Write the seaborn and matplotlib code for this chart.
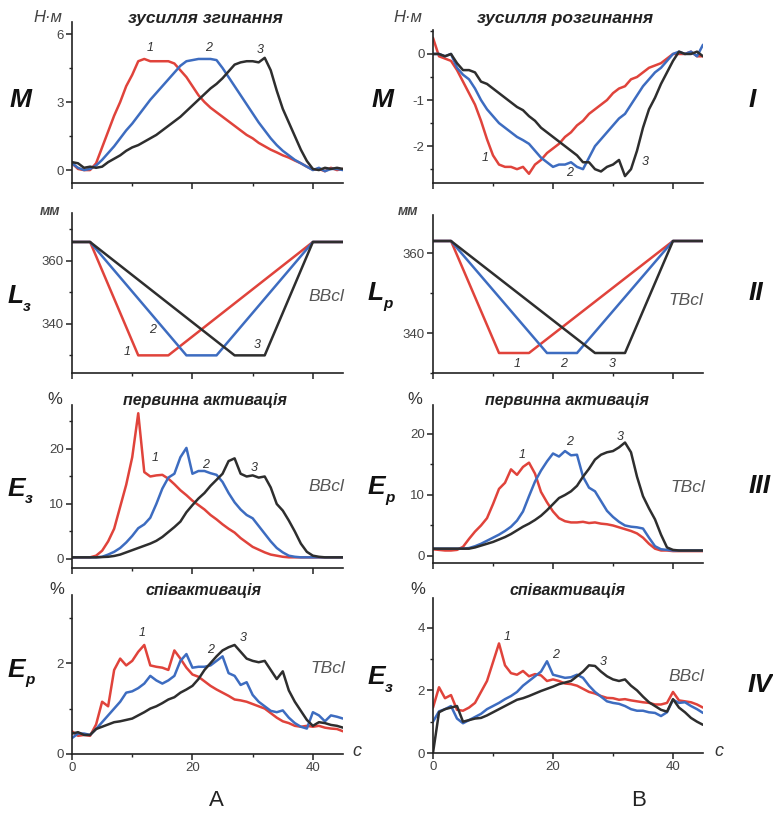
import pandas as pd
import seaborn as sns
import matplotlib.pyplot as plt
from matplotlib.ticker import MultipleLocator

# time axis, s
t = list(range(46))

# I. moment, N*m -- flexion (left)
m_flex_1 = [0.3, 0.05, 0.0, 0.0, 0.3, 1.0, 1.7, 2.4, 3.0, 3.7, 4.2, 4.8, 4.9, 4.8, 4.8, 4.8,
            4.8, 4.7, 4.4, 4.1, 3.7, 3.3, 3.0, 2.75, 2.55, 2.35, 2.15, 1.95, 1.75, 1.55, 1.4,
            1.2, 1.05, 0.9, 0.78, 0.65, 0.55, 0.42, 0.3, 0.15, 0.02, 0.05, -0.05, 0.1, 0.0, 0.05]
m_flex_2 = [0.3, 0.1, 0.0, 0.05, 0.2, 0.45, 0.75, 1.05, 1.4, 1.75, 2.05, 2.4, 2.75, 3.1, 3.4, 3.7,
            4.0, 4.3, 4.6, 4.8, 4.85, 4.9, 4.9, 4.9, 4.85, 4.5, 4.1, 3.7, 3.3, 2.9, 2.5,
            2.1, 1.75, 1.4, 1.1, 0.85, 0.65, 0.45, 0.3, 0.15, 0.0, 0.1, -0.05, 0.05, 0.05, 0.0]
m_flex_3 = [0.35, 0.3, 0.1, 0.15, 0.1, 0.15, 0.35, 0.5, 0.65, 0.85, 1.0, 1.1, 1.25, 1.4, 1.55, 1.75,
            1.95, 2.15, 2.35, 2.6, 2.85, 3.1, 3.35, 3.6, 3.8, 4.05, 4.35, 4.65, 4.75, 4.8, 4.8,
            4.75, 4.95, 4.4, 3.5, 2.7, 2.1, 1.5, 0.9, 0.4, 0.05, 0.0, 0.1, 0.05, 0.1, 0.05]

# I. moment, N*m -- extension (right)
m_ext_1 = [0.35, -0.05, -0.1, -0.15, -0.35, -0.6, -0.85, -1.1, -1.45, -1.85, -2.2, -2.4, -2.45, -2.45,
           -2.5, -2.45, -2.6, -2.4, -2.3, -2.15, -2.05, -1.95, -1.8, -1.7, -1.55, -1.45, -1.3, -1.2,
           -1.1, -1.0, -0.85, -0.75, -0.7, -0.55, -0.5, -0.4, -0.3, -0.25, -0.2, -0.1, 0.0, 0.0, 0.0,
           0.05, -0.05, -0.05]
m_ext_2 = [0.0, 0.0, -0.05, 0.0, -0.3, -0.45, -0.55, -0.75, -1.0, -1.2, -1.35, -1.5, -1.6, -1.7,
           -1.8, -1.87, -1.95, -2.1, -2.25, -2.35, -2.45, -2.4, -2.4, -2.35, -2.45, -2.5, -2.25, -2.0,
           -1.85, -1.7, -1.55, -1.4, -1.3, -1.1, -0.9, -0.7, -0.55, -0.4, -0.3, -0.15, 0.0, 0.05, 0.0,
           0.05, -0.05, 0.2]
m_ext_3 = [0.0, 0.0, -0.05, 0.0, -0.2, -0.35, -0.35, -0.4, -0.6, -0.65, -0.75, -0.85, -0.95, -1.05,
           -1.15, -1.22, -1.35, -1.45, -1.6, -1.7, -1.8, -1.9, -2.0, -2.1, -2.2, -2.35, -2.35, -2.5,
           -2.55, -2.45, -2.4, -2.3, -2.65, -2.5, -2.1, -1.6, -1.2, -0.95, -0.65, -0.4, -0.15, 0.05,
           0.0, 0.0, 0.05, -0.05]

# II. muscle length, mm (piecewise ramps)
l_t1 = [0, 3, 11, 16, 40, 45]
l_t2 = [0, 3, 19, 24, 40, 45]
l_t3 = [0, 3, 27, 32, 40, 45]
l_flex = [366, 366, 330, 330, 366, 366]
l_ext = [363, 363, 335, 335, 363, 363]

# III. primary activation, %
e_flex_1 = [0.3, 0.3, 0.3, 0.3, 0.6, 1.5, 3.2, 5.5, 9.5, 13.5, 18.5, 26.5, 15.8, 15.0, 15.2, 15.3,
            14.6, 13.6, 12.5, 11.6, 10.6, 9.8, 9.0, 8.0, 7.2, 6.3, 5.5, 4.8, 3.8, 3.0, 2.2, 1.7,
            1.2, 0.8, 0.6, 0.4, 0.3, 0.3, 0.3, 0.3, 0.3, 0.3, 0.3, 0.3, 0.3, 0.3]
e_flex_2 = [0.3, 0.3, 0.3, 0.3, 0.3, 0.4, 0.8, 1.3, 2.0, 3.0, 4.2, 5.6, 6.3, 7.5, 10.0, 12.8,
            14.8, 15.5, 18.5, 20.2, 15.5, 16.0, 16.0, 15.6, 15.3, 14.0, 12.0, 10.3, 9.0, 8.0, 7.4,
            6.0, 4.6, 3.2, 2.0, 1.2, 0.6, 0.4, 0.3, 0.3, 0.3, 0.3, 0.3, 0.3, 0.3, 0.3]
e_flex_3 = [0.3, 0.3, 0.3, 0.3, 0.3, 0.35, 0.4, 0.55, 0.8, 1.2, 1.6, 2.0, 2.4, 2.8, 3.3, 4.0,
            4.9, 5.8, 6.8, 8.5, 9.8, 11.0, 12.0, 13.3, 14.4, 15.5, 17.8, 18.3, 15.5, 15.0, 15.2,
            14.8, 15.0, 13.0, 10.0, 8.8, 7.0, 5.0, 2.8, 1.3, 0.6, 0.4, 0.3, 0.3, 0.3, 0.3]

e_ext_1 = [1.1, 1.0, 0.9, 0.9, 1.0, 1.5, 2.8, 4.0, 5.0, 6.2, 8.5, 11.0, 12.0, 14.2, 13.3, 14.6,
           15.3, 13.5, 10.5, 8.8, 7.3, 6.2, 5.7, 5.5, 5.5, 5.6, 5.4, 5.5, 5.3, 5.2, 5.0, 4.7,
           4.4, 4.1, 3.7, 3.0, 2.0, 1.2, 0.9, 0.9, 0.8, 0.8, 0.8, 0.8, 0.8, 0.8]
e_ext_2 = [1.2, 1.2, 1.2, 1.2, 1.2, 1.2, 1.3, 1.6, 2.0, 2.5, 3.0, 3.5, 4.1, 4.8, 5.8, 7.3,
           9.8, 12.2, 14.0, 15.5, 16.8, 16.3, 17.2, 16.5, 16.6, 13.0, 11.2, 10.6, 9.0, 7.4, 6.4,
           5.6, 5.0, 4.8, 4.7, 4.5, 3.0, 1.6, 1.1, 1.0, 0.9, 0.9, 0.9, 0.9, 0.9, 0.9]
e_ext_3 = [1.2, 1.2, 1.2, 1.2, 1.2, 1.2, 1.2, 1.4, 1.7, 2.0, 2.3, 2.7, 3.1, 3.6, 4.2, 4.8,
           5.3, 5.9, 6.6, 7.5, 8.5, 9.5, 10.0, 10.6, 11.5, 13.0, 14.3, 15.8, 16.6, 17.0, 17.2,
           17.8, 18.6, 17.0, 13.0, 9.8, 7.8, 6.0, 3.5, 1.4, 1.0, 0.9, 0.9, 0.9, 0.9, 0.9]

# IV. coactivation, %
c_flex_1 = [0.5, 0.4, 0.42, 0.4, 0.65, 1.15, 1.05, 1.85, 2.1, 1.95, 2.05, 2.25, 2.4, 1.95, 1.92,
            1.9, 1.85, 2.28, 2.1, 1.9, 1.75, 1.7, 1.6, 1.5, 1.42, 1.35, 1.28, 1.2, 1.18, 1.15, 1.1,
            1.05, 1.0, 0.9, 0.8, 0.72, 0.68, 0.62, 0.6, 0.62, 0.6, 0.62, 0.58, 0.56, 0.55, 0.5]
c_flex_2 = [0.35, 0.45, 0.45, 0.42, 0.55, 0.7, 0.85, 1.0, 1.15, 1.35, 1.38, 1.45, 1.55, 1.72, 1.62,
            1.55, 1.62, 1.72, 2.05, 2.2, 1.9, 1.92, 1.92, 1.95, 2.05, 2.15, 1.78, 1.72, 1.52, 1.58,
            1.3, 1.15, 1.05, 0.95, 0.92, 0.96, 0.8, 0.68, 0.6, 0.56, 0.92, 0.85, 0.72, 0.85, 0.82, 0.78]
c_flex_3 = [0.45, 0.48, 0.42, 0.42, 0.55, 0.6, 0.65, 0.7, 0.72, 0.75, 0.78, 0.85, 0.92, 1.0, 1.05,
            1.12, 1.2, 1.25, 1.35, 1.42, 1.5, 1.65, 1.85, 2.0, 2.15, 2.28, 2.35, 2.4, 2.25, 2.1,
            2.05, 2.02, 2.05, 1.85, 1.65, 1.82, 1.4, 1.15, 0.95, 0.75, 0.62, 0.7, 0.68, 0.64, 0.62, 0.58]

c_ext_1 = [1.45, 2.1, 1.75, 1.85, 1.38, 1.35, 1.45, 1.6, 1.95, 2.3, 2.9, 3.5, 2.8, 2.55, 2.5,
           2.62, 2.45, 2.52, 2.48, 2.3, 2.35, 2.3, 2.22, 2.2, 2.15, 2.05, 1.95, 1.9, 1.82, 1.76,
           1.75, 1.7, 1.72, 1.68, 1.65, 1.62, 1.6, 1.55, 1.55, 1.6, 1.95, 1.68, 1.65, 1.62, 1.55, 1.45]
c_ext_2 = [1.0, 1.33, 1.4, 1.5, 1.1, 0.95, 1.05, 1.15, 1.25, 1.4, 1.5, 1.6, 1.72, 1.82, 1.95,
           2.15, 2.3, 2.45, 2.6, 2.93, 2.5, 2.45, 2.4, 2.42, 2.5, 2.4, 2.15, 1.95, 1.8, 1.65, 1.6,
           1.57, 1.5, 1.4, 1.35, 1.35, 1.3, 1.28, 1.18, 1.3, 1.7, 1.6, 1.62, 1.5, 1.4, 1.28]
c_ext_3 = [0.0, 1.3, 1.4, 1.45, 1.5, 1.0, 1.05, 1.1, 1.12, 1.2, 1.3, 1.4, 1.5, 1.6, 1.7, 1.75,
           1.82, 1.9, 1.98, 2.05, 2.12, 2.2, 2.25, 2.3, 2.45, 2.6, 2.8, 2.78, 2.6, 2.45, 2.35, 2.3,
           2.35, 2.15, 2.0, 1.8, 1.62, 1.5, 1.38, 1.32, 1.72, 1.45, 1.3, 1.12, 1.0, 0.9]

colors = {'1': '#e0433b', '2': '#3d6cc0', '3': '#2e2e2e'}

W, H = 773, 815
sns.set_style('ticks')
plt.rcParams['font.family'] = ['Liberation Sans', 'DejaVu Sans']
plt.rcParams['axes.unicode_minus'] = False
fig = plt.figure(figsize=(W / 100, H / 100), dpi=100)


def make_axes(x0, x1, top, bottom):
    return fig.add_axes([x0 / W, 1 - bottom / H, (x1 - x0) / W, (bottom - top) / H])


def long_df(curves):
    rows = []
    for name, (xs, ys) in curves.items():
        rows.append(pd.DataFrame({'t': xs, 'v': ys, 'curve': name}))
    return pd.concat(rows, ignore_index=True)


def draw(ax, curves, ylim, major, minor, xlabels=False):
    df = long_df(curves)
    sns.lineplot(data=df, x='t', y='v', hue='curve', palette=colors, legend=False,
                 ax=ax, lw=1.8, sort=False, estimator=None)
    ax.set_xlim(0, 45)
    ax.set_ylim(*ylim)
    ax.set_xlabel('')
    ax.set_ylabel('')
    ax.xaxis.set_major_locator(MultipleLocator(20))
    ax.xaxis.set_minor_locator(MultipleLocator(10))
    ax.yaxis.set_major_locator(MultipleLocator(major))
    ax.yaxis.set_minor_locator(MultipleLocator(minor))
    ax.tick_params(which='major', direction='out', length=4, width=1.1, color='#222',
                   labelsize=9.5, labelcolor='#444', pad=2)
    ax.tick_params(which='minor', direction='out', length=2.5, width=1, color='#222')
    if not xlabels:
        ax.tick_params(axis='x', labelbottom=False)
    sns.despine(ax=ax)
    for s in ('left', 'bottom'):
        ax.spines[s].set_linewidth(1.2)
        ax.spines[s].set_color('#222')
    ax.patch.set_alpha(0)


def ftext(x, y, s, **kw):
    kw.setdefault('ha', 'center')
    kw.setdefault('va', 'center')
    fig.text(x / W, 1 - y / H, s, **kw)


def num_labels(ax, pos):
    for name, (x, y) in pos.items():
        ax.text(x, y, name, ha='center', va='center', fontsize=9, style='italic', color='#333')


tag = dict(ha='center', va='center', fontsize=12.5, style='italic', color='#555')

LX0, LX1, RX0, RX1 = 72, 343, 433, 703

ax = make_axes(LX0, LX1, 22, 183)
draw(ax, {'1': (t, m_flex_1), '2': (t, m_flex_2), '3': (t, m_flex_3)}, (-0.57, 6.53), 3, 1.5)
num_labels(ax, {'1': (13, 5.4), '2': (22.7, 5.4), '3': (31.2, 5.3)})

ax = make_axes(RX0, RX1, 30, 183)
draw(ax, {'1': (t, m_ext_1), '2': (t, m_ext_2), '3': (t, m_ext_3)}, (-2.8, 0.52), 1, 0.5)
num_labels(ax, {'1': (8.7, -2.26), '2': (22.8, -2.59), '3': (35.3, -2.35)})

ax = make_axes(LX0, LX1, 213, 373)
draw(ax, {'1': (l_t1, l_flex), '2': (l_t2, l_flex), '3': (l_t3, l_flex)}, (324.4, 375.2), 20, 10)
num_labels(ax, {'1': (9.2, 331), '2': (13.3, 338.2), '3': (30.8, 333.2)})
ax.text(42.2, 348.6, 'BBcl', **tag)

ax = make_axes(RX0, RX1, 215, 373)
draw(ax, {'1': (l_t1, l_ext), '2': (l_t2, l_ext), '3': (l_t3, l_ext)}, (330, 369.5), 20, 10)
num_labels(ax, {'1': (14, 332.2), '2': (21.7, 332.2), '3': (29.8, 332.2)})
ax.text(42.2, 348.2, 'TBcl', **tag)

ax = make_axes(LX0, LX1, 405, 568)
draw(ax, {'1': (t, e_flex_1), '2': (t, e_flex_2), '3': (t, e_flex_3)}, (-1.64, 28), 10, 5)
num_labels(ax, {'1': (13.8, 18.4), '2': (22.2, 17.1), '3': (30.2, 16.5)})
ax.text(42.2, 13.1, 'BBcl', **tag)

ax = make_axes(RX0, RX1, 405, 563)
draw(ax, {'1': (t, e_ext_1), '2': (t, e_ext_2), '3': (t, e_ext_3)}, (-1.15, 24.75), 10, 5)
num_labels(ax, {'1': (14.8, 16.6), '2': (22.8, 18.7), '3': (31.2, 19.5)})
ax.text(42.5, 11.3, 'TBcl', **tag)

ax = make_axes(LX0, LX1, 595, 754)
draw(ax, {'1': (t, c_flex_1), '2': (t, c_flex_2), '3': (t, c_flex_3)}, (0, 3.5), 2, 1, xlabels=True)
num_labels(ax, {'1': (11.7, 2.66), '2': (23, 2.29), '3': (28.5, 2.55)})
ax.text(42.5, 1.89, 'TBcl', **tag)

ax = make_axes(RX0, RX1, 598, 753)
draw(ax, {'1': (t, c_ext_1), '2': (t, c_ext_2), '3': (t, c_ext_3)}, (0, 4.95), 2, 1, xlabels=True)
num_labels(ax, {'1': (12.3, 3.7), '2': (20.5, 3.13), '3': (28.3, 2.9)})
ax.text(42.2, 2.43, 'BBcl', **tag)

# titles and units
bi = dict(fontweight='bold', style='italic', color='#222')
ftext(205, 18, 'зусилля згинання', fontsize=12.5, **bi)
ftext(565, 18, 'зусилля розгинання', fontsize=12.5, **bi)
ftext(205, 400, 'первинна активація', fontsize=11.5, **bi)
ftext(567, 400, 'первинна активація', fontsize=11.5, **bi)
ftext(203, 590, 'співактивація', fontsize=11.5, **bi)
ftext(567, 590, 'співактивація', fontsize=11.5, **bi)

un = dict(style='italic', color='#444', fontsize=12)
ftext(48, 18, 'Н·м', **un)
ftext(408, 18, 'Н·м', **un)
mm = dict(fontsize=10, fontweight='bold', style='italic', color='#444')
ftext(50, 211, 'мм', **mm)
ftext(408, 211, 'мм', **mm)
pc = dict(fontsize=12, color='#333')
ftext(55, 399, '%', **pc)
ftext(415, 399, '%', **pc)
ftext(57, 590, '%', **pc)
ftext(418, 590, '%', **pc)
ftext(357, 752, 'с', fontsize=13, style='italic', color='#333')
ftext(719, 752, 'с', fontsize=13, style='italic', color='#333')

# row symbols
big = dict(fontsize=19, fontweight='bold', style='italic', color='#111')
sub = dict(fontsize=11, fontweight='bold', style='italic', color='#111')
ftext(21, 100, 'M', **big)
ftext(383, 100, 'M', **big)
ftext(8, 296, 'L', ha='left', **big)
ftext(23, 307, 'з', ha='left', **sub)
ftext(368, 293, 'L', ha='left', **big)
ftext(383, 304, 'р', ha='left', **sub)
ftext(8, 489, 'E', ha='left', **big)
ftext(25, 499, 'з', ha='left', **sub)
ftext(368, 487, 'E', ha='left', **big)
ftext(385, 498, 'р', ha='left', **sub)
ftext(8, 670, 'E', ha='left', **big)
ftext(25, 680, 'р', ha='left', **sub)
ftext(368, 677, 'E', ha='left', **big)
ftext(385, 688, 'з', ha='left', **sub)

ftext(752, 100, 'I', **big)
ftext(756, 293, 'II', **big)
ftext(760, 486, 'III', **big)
ftext(760, 685, 'IV', **big)

ftext(216, 800, 'A', fontsize=16, color='#222')
ftext(639, 800, 'B', fontsize=16, color='#222')

fig.savefig('out.png', dpi=100)
